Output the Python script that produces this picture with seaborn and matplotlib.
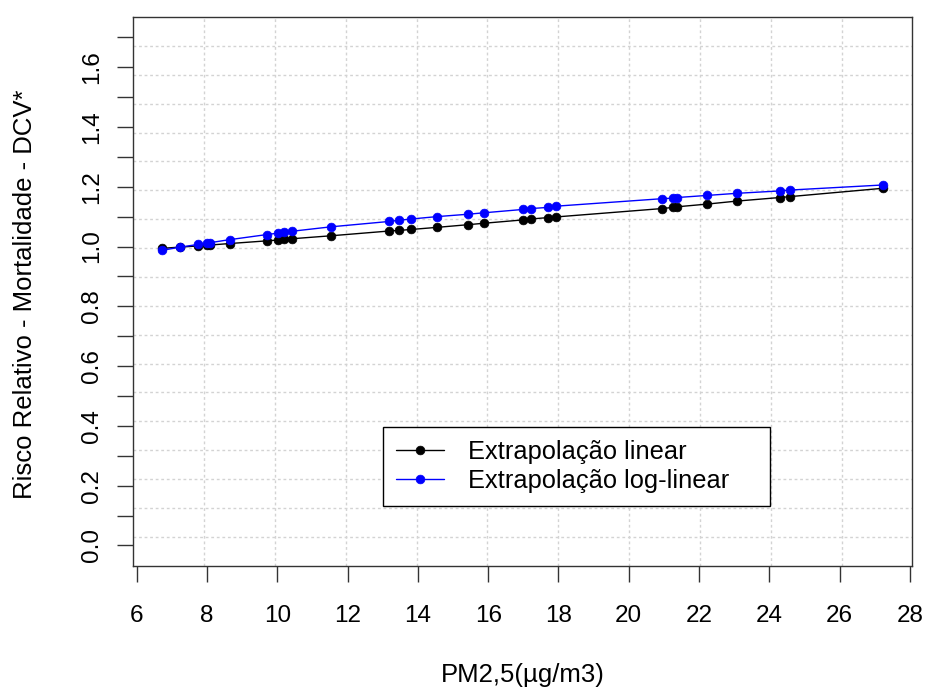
import numpy as np
import pandas as pd
import matplotlib
matplotlib.use('Agg')
import matplotlib.pyplot as plt
import seaborn as sns

# ---- data ----
pm25 = [6.71, 7.23, 7.74, 7.99, 8.09, 8.64, 9.70, 10.03, 10.19, 10.41, 11.53,
        13.19, 13.47, 13.80, 14.53, 15.42, 15.89, 16.98, 17.21, 17.71, 17.93,
        20.94, 21.27, 21.38, 22.23, 23.07, 24.30, 24.59, 27.24]
rr_linear = [0.994, 0.998, 1.002, 1.004, 1.005, 1.010, 1.019, 1.022, 1.024, 1.026, 1.036,
             1.052, 1.054, 1.057, 1.064, 1.073, 1.078, 1.089, 1.092, 1.097, 1.099,
             1.127, 1.131, 1.133, 1.142, 1.152, 1.164, 1.167, 1.195]
rr_loglinear = [0.987, 0.998, 1.007, 1.012, 1.013, 1.023, 1.040, 1.045, 1.047, 1.051, 1.066,
                1.084, 1.088, 1.092, 1.100, 1.108, 1.113, 1.124, 1.127, 1.131, 1.135,
                1.160, 1.162, 1.164, 1.171, 1.178, 1.186, 1.189, 1.206]
series_names = ["Extrapolação linear", "Extrapolação log-linear"]
series_colors = ["#000000", "#0000FF"]
x_ticks = [6, 8, 10, 12, 14, 16, 18, 20, 22, 24, 26, 28]
y_ticks = [0.0, 0.2, 0.4, 0.6, 0.8, 1.0, 1.2, 1.4, 1.6]
y_minor_ticks = [0.1, 0.3, 0.5, 0.7, 0.9, 1.1, 1.3, 1.5, 1.7]
xlabel = "PM2,5(µg/m3)"
ylabel = "Risco Relativo - Mortalidade - DCV*"

df = pd.DataFrame({
    "pm": pm25 * 2,
    "rr": rr_linear + rr_loglinear,
    "serie": [series_names[0]] * len(pm25) + [series_names[1]] * len(pm25),
})

sns.set_style("white")
plt.rcParams['font.family'] = ['Liberation Sans', 'DejaVu Sans']
plt.rcParams['text.color'] = 'black'
plt.rcParams['axes.labelcolor'] = 'black'

fig = plt.figure(figsize=(9.27, 6.91), dpi=100)
ax = fig.add_axes([0.1438, 0.1813, 0.8404, 0.7941])

xlim = (5.90, 28.07)
ylim = (-0.068, 1.768)
ax.set_xlim(*xlim)
ax.set_ylim(*ylim)

# dotted grid (equal divisions of plot region, as in the reference)
for gx in np.linspace(xlim[0], xlim[1], 12)[1:-1]:
    ax.axvline(gx, color="#d3d3d3", lw=1.0, ls=(0, (2, 2)), zorder=0)
for gy in np.linspace(ylim[0], ylim[1], 20)[1:-1]:
    ax.axhline(gy, color="#d3d3d3", lw=1.0, ls=(0, (2, 2)), zorder=0)

for name, col in zip(series_names, series_colors):
    sub = df[df["serie"] == name]
    sns.lineplot(data=sub, x="pm", y="rr", ax=ax, color=col, marker="o",
                 markersize=6.3, markeredgecolor=col, markeredgewidth=0.5,
                 lw=1.0, label=name, estimator=None, sort=True, zorder=3)

ax.set_xticks(x_ticks)
ax.set_xticklabels([str(t) for t in x_ticks])
ax.set_yticks(y_ticks)
ax.set_yticklabels([f"{t:.1f}" for t in y_ticks])
ax.set_yticks(y_minor_ticks, minor=True)

ax.tick_params(axis="both", which="both", direction="out", length=11.5, width=1.0,
               color="#333333", labelsize=17.5, labelcolor="black",
               bottom=True, left=True, top=False, right=False)
ax.tick_params(axis="y", which="minor", labelleft=False)
ax.tick_params(axis="x", which="major", pad=17)
ax.tick_params(axis="y", which="major", pad=10)
for lab in ax.get_yticklabels():
    lab.set_rotation(90)
    lab.set_va("center")

for sp in ax.spines.values():
    sp.set_color("#333333")
    sp.set_linewidth(1.0)
    sp.set_visible(True)

ax.set_xlabel(xlabel, fontsize=18.5, va="center")
ax.xaxis.set_label_coords(0.5, -0.199)
ax.set_ylabel(ylabel, fontsize=18.5, va="center")
ax.yaxis.set_label_coords(-0.1394, 0.495)

leg = ax.legend(loc="lower left", bbox_to_anchor=(0.3206, 0.1088, 0.4968, 0.14),
                mode="expand", borderaxespad=0,
                fontsize=18.3, frameon=True, fancybox=False, framealpha=1,
                edgecolor="black", handlelength=1.9, handletextpad=0.95,
                borderpad=0.5, labelspacing=0.22, numpoints=1)
leg.get_frame().set_linewidth(1.0)
for t in leg.get_texts():
    t.set_color("black")

fig.savefig("out.png", dpi=100)
